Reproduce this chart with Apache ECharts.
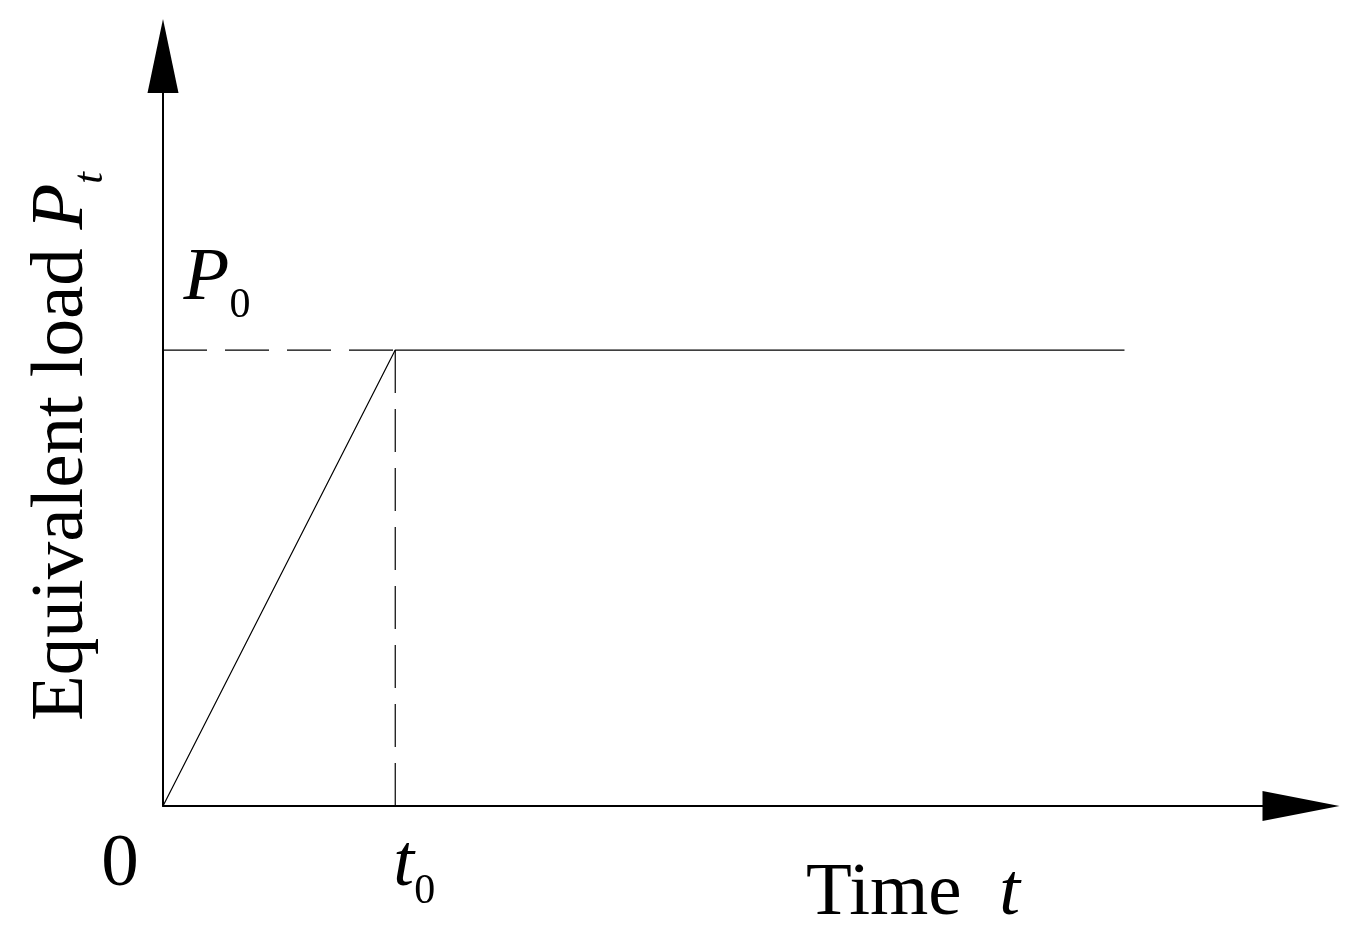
<!DOCTYPE html>
<html>
<head>
<meta charset="utf-8">
<title>Equivalent load</title>
<script src="https://cdn.jsdelivr.net/npm/echarts@6/dist/echarts.min.js"></script>
<style>
  html, body { margin: 0; padding: 0; background: #fff; }
  #chart { width: 1370px; height: 950px; }
</style>
</head>
<body>
<div id="chart"></div>
<script>
// load curve: linear ramp up to P0 at t0, then constant
let timeMax = 9.8;
let loadMax = 1.645;
let t0 = 2;
let P0 = 1;
let tEnd = 8.28;

let loadCurve = [[0, 0], [t0, P0], [tEnd, P0]];
let guideH = [[0, P0], [t0, P0]];
let guideV = [[t0, P0], [t0, 0]];
let tickValues = [0, t0];

let serif = 'Liberation Serif';
let big = 75;
let small = 42;

let rich = {
  n: { fontFamily: serif, fontSize: big, color: '#000', lineHeight: 100 },
  i: { fontFamily: serif, fontSize: big, fontStyle: 'italic', color: '#000', lineHeight: 100 },
  s: { fontFamily: serif, fontSize: small, color: '#000', lineHeight: 42, padding: [54, 0, 0, 0] },
  si: { fontFamily: serif, fontSize: small, fontStyle: 'italic', color: '#000', lineHeight: 42, padding: [58, 0, 0, 0] }
};

let myChart = echarts.init(document.getElementById('chart'));
myChart.setOption({
  animation: false,
  backgroundColor: '#fff',
  grid: { left: 163, right: 69, top: 56, bottom: 144, containLabel: false, outerBoundsMode: 'none' },
  xAxis: {
    type: 'value',
    min: 0,
    max: timeMax,
    name: '{n|Time  }{i|t}',
    nameLocation: 'middle',
    nameGap: 51,
    nameMoveOverlap: false,
    nameTextStyle: {
      padding: [0, 0, 0, 362],
      rich: {
        n: { fontFamily: serif, fontSize: big, color: '#000' },
        i: { fontFamily: serif, fontSize: big, fontStyle: 'italic', color: '#000' }
      }
    },
    axisLine: {
      show: true,
      symbol: ['none', 'triangle'],
      symbolSize: [30, 77],
      lineStyle: { color: '#000', width: 2 }
    },
    axisTick: { show: false },
    splitLine: { show: false },
    axisLabel: {
      customValues: tickValues,
      margin: 9,
      formatter: function (v) {
        if (v === 0) return '{z|0}';
        return '{ti|t}{s|0}';
      },
      rich: Object.assign({}, rich, {
        z: { fontFamily: serif, fontSize: big, color: '#000', lineHeight: 100, padding: [0, 86, 0, 0] },
        ti: { fontFamily: serif, fontSize: big, fontStyle: 'italic', color: '#000', lineHeight: 100, padding: [0, 0, 0, 38] }
      })
    }
  },
  yAxis: {
    type: 'value',
    min: 0,
    max: loadMax,
    name: '{n|Equivalent load }{i|P}{si|t}',
    nameLocation: 'middle',
    nameRotate: 90,
    nameGap: 51,
    nameMoveOverlap: false,
    nameTextStyle: {
      padding: [0, 31, 0, 0],
      rich: rich
    },
    axisLine: {
      show: true,
      symbol: ['none', 'triangle'],
      symbolSize: [31, 74],
      lineStyle: { color: '#000', width: 2 }
    },
    axisTick: { show: false },
    axisLabel: { show: false },
    splitLine: { show: false }
  },
  series: [
    {
      type: 'line',
      data: loadCurve,
      symbol: 'none',
      lineStyle: { color: '#000', width: 1.2 }
    },
    {
      type: 'line',
      data: guideH,
      symbol: 'none',
      lineStyle: { color: '#000', width: 1.2, type: [44, 18] }
    },
    {
      type: 'line',
      data: guideV,
      symbol: 'none',
      lineStyle: { color: '#000', width: 1.2, type: [43, 16] }
    },
    {
      type: 'scatter',
      data: [[0, P0]],
      symbolSize: 0,
      itemStyle: { color: '#000', opacity: 1 },
      label: {
        show: true,
        position: 'top',
        distance: 21,
        offset: [54, 0],
        color: '#000',
        opacity: 1,
        formatter: '{i|P}{s|0}',
        rich: rich
      }
    }
  ]
});
</script>
</body>
</html>
